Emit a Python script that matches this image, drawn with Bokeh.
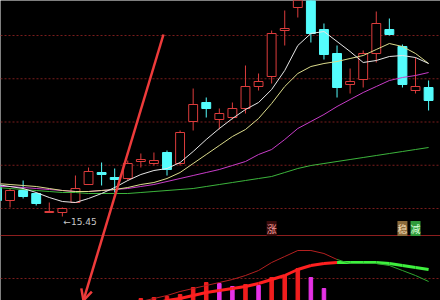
from bokeh.plotting import figure
from bokeh.models import Range1d, Span, Arrow, OpenHead, Label, ColumnDataSource
from bokeh.core.properties import value
from bokeh.embed import file_html
from bokeh.resources import INLINE

nan = float("nan")

# Daily candles (price, yuan)
opens  = [16.07, 15.77, 15.97, 15.91, 15.53, 15.53, 15.73, 16.09, 16.33, 16.23,
          16.21, 16.55, 16.51, 16.73, 16.51, 17.35, 17.73, 17.39, 17.43, 17.61,
          18.05, 18.25, 19.17, 19.63, 19.93, 19.19, 18.71, 18.09, 18.19, 18.71,
          19.19, 18.85, 17.97, 18.03]
highs  = [16.13, 16.01, 16.17, 15.93, 15.73, 15.63, 16.27, 16.43, 16.53, 16.41,
          16.57, 16.71, 16.73, 16.77, 17.17, 18.01, 17.83, 17.61, 17.73, 18.47,
          18.31, 19.17, 19.57, 19.97, 20.01, 19.31, 18.87, 18.41, 18.77, 19.55,
          19.41, 18.89, 18.63, 18.17]
lows   = [15.71, 15.63, 15.81, 15.67, 15.53, 15.45, 15.73, 16.09, 16.07, 15.93,
          16.17, 16.43, 16.47, 16.27, 16.47, 17.17, 17.43, 17.19, 17.39, 17.51,
          17.97, 18.11, 18.87, 19.43, 18.93, 18.59, 17.83, 17.91, 18.03, 18.53,
          19.07, 18.03, 17.91, 17.57]
closes = [15.77, 15.97, 15.85, 15.71, 15.55, 15.61, 16.01, 16.35, 16.29, 16.19,
          16.51, 16.59, 16.57, 16.39, 17.13, 17.69, 17.61, 17.51, 17.61, 18.05,
          18.15, 19.11, 19.21, 19.87, 19.11, 18.69, 18.03, 18.15, 18.71, 19.31,
          19.09, 18.09, 18.05, 17.77]

# Moving averages
ma5  = [16.09, 16.05, 16.01, 15.93, 15.83, 15.75, 15.73, 15.81, 15.91, 16.03,
        16.17, 16.29, 16.37, 16.41, 16.53, 16.75, 16.99, 17.21, 17.41, 17.59,
        17.73, 17.99, 18.37, 18.87, 19.11, 19.15, 18.95, 18.75, 18.53, 18.57,
        18.65, 18.67, 18.63, 18.51]
ma10 = [16.11, 16.09, 16.07, 16.05, 16.01, 15.97, 15.95, 15.95, 15.97, 15.99,
        16.03, 16.09, 16.13, 16.21, 16.33, 16.51, 16.69, 16.87, 17.05, 17.19,
        17.41, 17.71, 18.05, 18.31, 18.45, 18.51, 18.55, 18.61, 18.67, 18.79,
        18.91, 18.85, 18.71, 18.51]
ma20 = [16.05, 16.05, 16.03, 16.01, 15.99, 15.97, 15.95, 15.95, 15.97, 15.99,
        16.01, 16.05, 16.09, 16.15, 16.21, 16.27, 16.33, 16.39, 16.47, 16.55,
        16.69, 16.79, 16.99, 17.21, 17.35, 17.49, 17.65, 17.79, 17.93, 18.05,
        18.17, 18.23, 18.27, 18.33]
ma60 = [16.03, 16.01, 15.99, 15.97, 15.95, 15.93, 15.93, 15.91, 15.91, 15.91,
        15.91, 15.93, 15.95, 15.97, 15.99, 16.01, 16.05, 16.09, 16.13, 16.17,
        16.21, 16.25, 16.33, 16.41, 16.47, 16.51, 16.55, 16.59, 16.63, 16.67,
        16.71, 16.75, 16.79, 16.83]

# Lower indicator panel
ind_fast = [nan] * 11 + [0.01, 0.04, 0.07, 0.11, 0.14, 0.17, 0.20, 0.23, 0.27, 0.32,
                         0.40, 0.46, 0.52, 0.52, 0.49, 0.43, 0.39, 0.39, 0.39, 0.37,
                         0.32, 0.27, 0.21]
ind_slow = [nan] * 12 + [-0.01, 0.02, 0.04, 0.07, 0.10, 0.12, 0.14, 0.16, 0.19,
                         0.23, 0.27, 0.33, 0.37, 0.39, 0.40, 0.40, 0.40, 0.40, 0.39,
                         0.37, 0.35, 0.33]
ind_hist = [nan] * 11 + [0.04, 0.05, 0.06, 0.08, 0.15, 0.20, 0.19, 0.16, 0.18, 0.17,
                         0.25, 0.27, 0.34, 0.25, 0.14] + [nan] * 8

# Signal markers
signal_idx  = [21, 31, 32]
signal_text = ["涨", "稳", "减"]

grid_levels = [15.61, 16.475, 17.34, 18.205, 19.07]
ind_grid = 0.24
split_level = 15.07
signal_y = 15.21

BG = "#000000"
UP = "#dc3c3c"
DOWN = "#54fcfc"
GRID = "#7a1c1c"

n = len(closes)
idx = list(range(n))

y_lo, y_hi = 13.77, 19.77
ind_lo, ind_hi = 0.02, 3.02

p = figure(width=440, height=300, x_range=Range1d(0.27, 33.91),
           y_range=Range1d(y_lo, y_hi), toolbar_location=None,
           output_backend="svg", x_axis_location=None, y_axis_location=None,
           min_border=0, background_fill_color=BG, border_fill_color=BG,
           outline_line_color=None)
p.extra_y_ranges = {"ind": Range1d(ind_lo, ind_hi)}
for g in p.grid:
    g.visible = False

# grid and panel separator
for lvl in grid_levels:
    p.add_layout(Span(location=lvl, dimension="width", line_color=GRID,
                      line_dash="2 2", line_width=1, level="underlay"))
ind_grid_price = y_lo + (ind_grid - ind_lo) / (ind_hi - ind_lo) * (y_hi - y_lo)
p.add_layout(Span(location=ind_grid_price, dimension="width", line_color=GRID,
                  line_dash="2 2", line_width=1, level="underlay"))
p.add_layout(Span(location=split_level, dimension="width", line_color="#8c1e1e",
                  line_width=1, level="underlay"))

# candles
is_up = [c >= o for o, c in zip(opens, closes)]
src = ColumnDataSource(dict(
    x=idx,
    top=[max(o, c) for o, c in zip(opens, closes)],
    bottom=[min(o, c) for o, c in zip(opens, closes)],
    high=highs, low=lows,
    color=[UP if u else DOWN for u in is_up],
    fill=[BG if u else DOWN for u in is_up],
))
p.segment("x", "high", "x", "low", color="color", line_width=1, source=src)
p.vbar(x="x", width=0.68, top="top", bottom="bottom", fill_color="fill",
       line_color="color", line_width=1, source=src)

# moving averages
p.line(idx, ma60, line_color="#3cb43c", line_width=1)
p.line(idx, ma20, line_color="#c83cc8", line_width=1)
p.line(idx, ma10, line_color="#dcdc8c", line_width=1)
p.line(idx, ma5, line_color="#e6e6e6", line_width=1)

# lowest-low label
i_min = min(idx, key=lambda i: lows[i])
p.text(x=[i_min], y=[lows[i_min]], text=[f"←{lows[i_min]:.2f}"],
       text_align="left", text_baseline="top", x_offset=1,
       text_font=value("DejaVu Sans"), text_font_size="9px", text_color="#c8c8c8")

# histogram bars
hx, htop, hcol = [], [], []
prev = nan
for i, v in enumerate(ind_hist):
    if v == v:
        hx.append(i)
        htop.append(v)
        hcol.append("#f01e1e" if not (prev == prev) or v >= prev else "#e632e6")
    prev = v
p.vbar(x=hx, top=htop, bottom=0, width=0.27, color=hcol, y_range_name="ind")

# indicator lines, red while fast stays above slow, green after the cross
def segs(series, red, green):
    x0, y0, x1, y1, col = [], [], [], [], []
    for i in range(n - 1):
        a, b = series[i], series[i + 1]
        if a == a and b == b:
            x0.append(i); y0.append(a); x1.append(i + 1); y1.append(b)
            f, s = ind_fast[i + 1], ind_slow[i + 1]
            col.append(red if (s != s or f >= s) else green)
    return x0, y0, x1, y1, col

x0, y0, x1, y1, col = segs(ind_slow, "#ff2020", "#3ef03e")
p.segment(x0, y0, x1, y1, color=col, line_width=3, y_range_name="ind")
x0, y0, x1, y1, col = segs(ind_fast, "#b42020", "#2fa82f")
p.segment(x0, y0, x1, y1, color=col, line_width=1, y_range_name="ind")

# signal markers
sig_style = {"涨": ("#f29a9a", "#3a0c0c"),
             "稳": ("#f2dcb4", "#8a6a3a"),
             "减": ("#d8ffd8", "#2f9a3a")}
for i, t in zip(signal_idx, signal_text):
    fg, bg = sig_style[t]
    p.add_layout(Label(x=i, y=signal_y, text=t, text_align="center",
                       text_baseline="middle", text_font="Noto Sans CJK SC",
                       text_font_size="10px", text_color=fg,
                       background_fill_color=bg))

# pointer arrow
p.add_layout(Arrow(x_start=12.73, y_start=19.09, x_end=6.61, y_end=13.77,
                   line_color="#ee3b3b", line_width=2.5,
                   end=OpenHead(size=11, line_color="#ee3b3b", line_width=2.5)))

open("out.html", "w").write(file_html(p, INLINE))
